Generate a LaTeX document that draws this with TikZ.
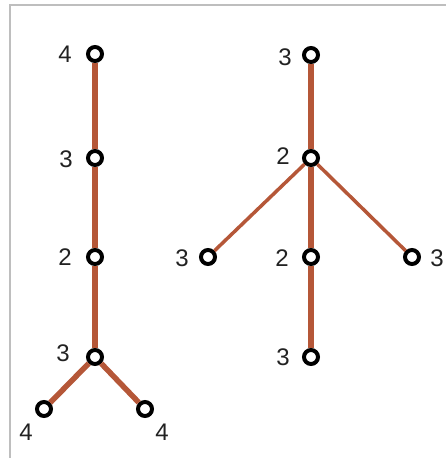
\documentclass[tikz,border=0pt]{standalone}
\usepackage{fontspec}
\setmainfont{Liberation Sans}
\definecolor{edgec}{RGB}{181,87,56}
\definecolor{framec}{RGB}{190,190,190}
\definecolor{txtc}{RGB}{34,34,34}
\begin{document}
\begin{tikzpicture}[x=1pt,y=-1pt,
  vtx/.style={circle,draw=black,fill=white,line width=4pt,minimum size=14pt,inner sep=0pt},
  thick edge/.style={draw=edgec,line width=5.5pt},
  thin edge/.style={draw=edgec,line width=3.5pt},
  lbl/.style={text=txtc,font=\fontsize{24}{24}\selectfont,inner sep=0pt,anchor=center}]
\useasboundingbox (0,0) rectangle (446,458);
\draw[framec,line width=1.5pt] (10,458) -- (10,5) -- (446,5);
% left tree
\node[vtx] (a1) at (95,54) {};
\node[vtx] (a2) at (95,158) {};
\node[vtx] (a3) at (95,257) {};
\node[vtx] (a4) at (95,357) {};
\node[vtx] (a5) at (44,409) {};
\node[vtx] (a6) at (145,409) {};
% right tree
\node[vtx] (b1) at (311,55) {};
\node[vtx] (b2) at (311,158) {};
\node[vtx] (b3) at (311,257) {};
\node[vtx] (b4) at (311,357) {};
\node[vtx] (b5) at (208,257) {};
\node[vtx] (b6) at (412,257) {};
\draw[thick edge] (a1) -- (a2);
\draw[thick edge] (a2) -- (a3);
\draw[thick edge] (a3) -- (a4);
\draw[thick edge] (a4) -- (a5);
\draw[thick edge] (a4) -- (a6);
\draw[thick edge] (b1) -- (b2);
\draw[thick edge] (b2) -- (b3);
\draw[thick edge] (b3) -- (b4);
\draw[thin edge] (b2) -- (b5);
\draw[thin edge] (b2) -- (b6);
% labels
\node[lbl] (la1) at (65,54) {4};
\node[lbl] (la2) at (66,159) {3};
\node[lbl] (la3) at (65,257) {2};
\node[lbl] (la4) at (63,353) {3};
\node[lbl] (la5) at (26,432) {4};
\node[lbl] (la6) at (162,432) {4};
\node[lbl] (lb1) at (285,57) {3};
\node[lbl] (lb2) at (283,156) {2};
\node[lbl] (lb3) at (282,258) {2};
\node[lbl] (lb4) at (283,357) {3};
\node[lbl] (lb5) at (182,258) {3};
\node[lbl] (lb6) at (437,258) {3};
\end{tikzpicture}
\end{document}
